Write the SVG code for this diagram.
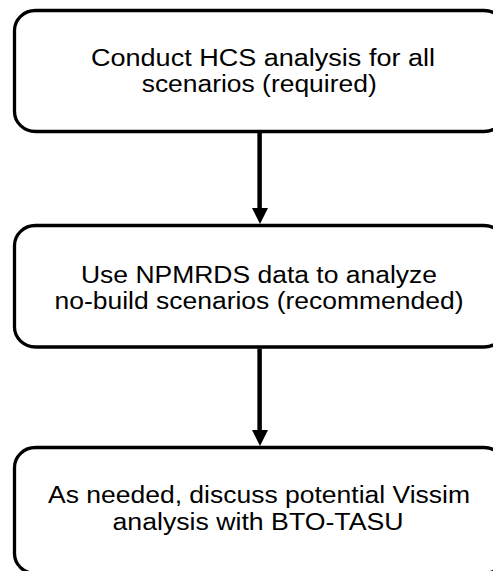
<svg xmlns="http://www.w3.org/2000/svg" width="493" height="571" viewBox="0 0 493 571">
<style>
.box{fill:#ffffff;stroke:#000000;stroke-width:3.3}
.lbl{font-family:"Liberation Sans",Arial,sans-serif;font-size:23.5px;fill:#000000;text-anchor:middle}
.edge{stroke:#000000;stroke-width:4.5;fill:none}
.head{fill:#000000}
</style>
<rect width="493" height="571" fill="#ffffff"/>
<g id="node1">
<rect class="box" x="14.5" y="10.5" width="490.5" height="121" rx="21" ry="20"/>
<text class="lbl" x="263" y="66" textLength="344" lengthAdjust="spacingAndGlyphs">Conduct HCS analysis for all</text>
<text class="lbl" x="259.2" y="92" textLength="235" lengthAdjust="spacingAndGlyphs">scenarios (required)</text>
</g>
<g id="node2">
<rect class="box" x="14.5" y="225.5" width="490.5" height="121.5" rx="21" ry="20"/>
<text class="lbl" x="259" y="282.5" textLength="356" lengthAdjust="spacingAndGlyphs">Use NPMRDS data to analyze</text>
<text class="lbl" x="259" y="308.5" textLength="409" lengthAdjust="spacingAndGlyphs">no-build scenarios (recommended)</text>
</g>
<g id="node3">
<rect class="box" x="14.5" y="447.5" width="490.5" height="126" rx="21" ry="20"/>
<text class="lbl" x="259" y="503" textLength="422" lengthAdjust="spacingAndGlyphs">As needed, discuss potential Vissim</text>
<text class="lbl" x="258" y="529.5" textLength="291" lengthAdjust="spacingAndGlyphs">analysis with BTO-TASU</text>
</g>
<g id="connectors">
<line class="edge" x1="259.6" y1="133" x2="259.6" y2="209"/>
<polygon class="head" points="252,208 268,208 260,224"/>
<line class="edge" x1="259.6" y1="348.5" x2="259.6" y2="431"/>
<polygon class="head" points="252,430 268,430 260,446"/>
</g>
</svg>
